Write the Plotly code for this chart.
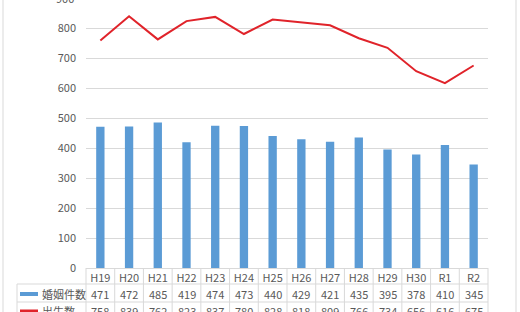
import plotly.graph_objects as go

categories = ["H19", "H20", "H21", "H22", "H23", "H24", "H25", "H26", "H27", "H28", "H29", "H30", "R1", "R2"]
marriages = [471, 472, 485, 419, 474, 473, 440, 429, 421, 435, 395, 378, 410, 345]
births = [758, 839, 762, 823, 837, 780, 828, 818, 809, 766, 734, 656, 616, 675]
series_names = ["婚姻件数", "出生数"]
y_ticks = [0, 100, 200, 300, 400, 500, 600, 700, 800, 900]

W, H = 520, 312
L, R, T, B = 86, 32, 0, 44
PH = H - T - B
PW = W - L - R
PX_PER_UNIT = 0.3

BLUE = "#5b9bd5"
RED = "#e0232a"
GRID = "#d9d9d9"
TXT = "#595959"
FONT = "Liberation Sans Narrow, Noto Sans CJK JP, sans-serif"
JFONT = "Noto Sans CJK JP, sans-serif"


def py(p):
    return (H - B - p) / PH


def px(p):
    return (p - L) / PW


fig = go.Figure()
fig.add_trace(go.Bar(x=categories, y=marriages, name=series_names[0],
                     marker=dict(color=BLUE, line=dict(width=0)), width=0.29))
fig.add_trace(go.Scatter(x=categories, y=births, name=series_names[1], mode="lines",
                         line=dict(color=RED, width=2)))

shapes = []
n = len(categories)
# column boundaries of data table
for k in range(n + 1):
    shapes.append(dict(type="line", xref="paper", yref="paper", x0=k / n, x1=k / n,
                       y0=py(268), y1=py(312), line=dict(color=GRID, width=1)))
# row lines
for yy in (284, 302):
    shapes.append(dict(type="line", xref="paper", yref="paper", x0=px(17), x1=1,
                       y0=py(yy), y1=py(yy), line=dict(color=GRID, width=1)))
shapes.append(dict(type="line", xref="paper", yref="paper", x0=px(17), x1=px(17),
                   y0=py(284), y1=py(312), line=dict(color=GRID, width=1)))
# outer chart border
for xx in (3, 516):
    shapes.append(dict(type="line", xref="paper", yref="paper", x0=px(xx), x1=px(xx),
                       y0=py(0), y1=py(312), line=dict(color=GRID, width=1)))
# legend keys
shapes.append(dict(type="rect", xref="paper", yref="paper", x0=px(20), x1=px(38),
                   y0=py(296), y1=py(292), fillcolor=BLUE, line=dict(width=0)))
shapes.append(dict(type="line", xref="paper", yref="paper", x0=px(20), x1=px(38),
                   y0=py(311), y1=py(311), line=dict(color=RED, width=3)))

annotations = []
for cat, m, b in zip(categories, marriages, births):
    annotations.append(dict(x=cat, xref="x", y=py(293.5), yref="paper", text=str(m),
                            yanchor="middle", showarrow=False,
                            font=dict(size=11, color=TXT, family=FONT)))
    annotations.append(dict(x=cat, xref="x", y=py(311), yref="paper", text=str(b),
                            yanchor="middle", showarrow=False,
                            font=dict(size=11, color=TXT, family=FONT)))
for name, yy in zip(series_names, (293.5, 311)):
    annotations.append(dict(x=px(40), xref="paper", y=py(yy), yref="paper", text=name,
                            xanchor="left", yanchor="middle", showarrow=False,
                            font=dict(size=11, color=TXT, family=JFONT)))
# top tick label, partly outside the visible plot area
annotations.append(dict(x=px(76), xref="paper", xanchor="right",
                        y=py(268 - y_ticks[-1] * PX_PER_UNIT), yref="paper",
                        yanchor="middle", text=str(y_ticks[-1]), showarrow=False,
                        font=dict(size=11, color=TXT, family=FONT)))

fig.update_layout(
    width=W, height=H,
    margin=dict(l=L, r=R, t=T, b=B, pad=0),
    paper_bgcolor="white", plot_bgcolor="white",
    showlegend=False,
    shapes=shapes, annotations=annotations,
    font=dict(family=FONT, size=11, color=TXT),
    xaxis=dict(type="category", range=[-0.5, n - 0.5], showgrid=False,
               showline=True, linecolor=GRID, linewidth=1, ticks="",
               tickfont=dict(size=11, color=TXT, family=FONT)),
    yaxis=dict(range=[0, PH / PX_PER_UNIT], tickvals=y_ticks, showgrid=True,
               gridcolor=GRID, gridwidth=1, zeroline=False, showline=False,
               ticks="", ticklabelstandoff=9,
               tickfont=dict(size=11, color=TXT, family=FONT)),
)

fig.write_html("out.html")
